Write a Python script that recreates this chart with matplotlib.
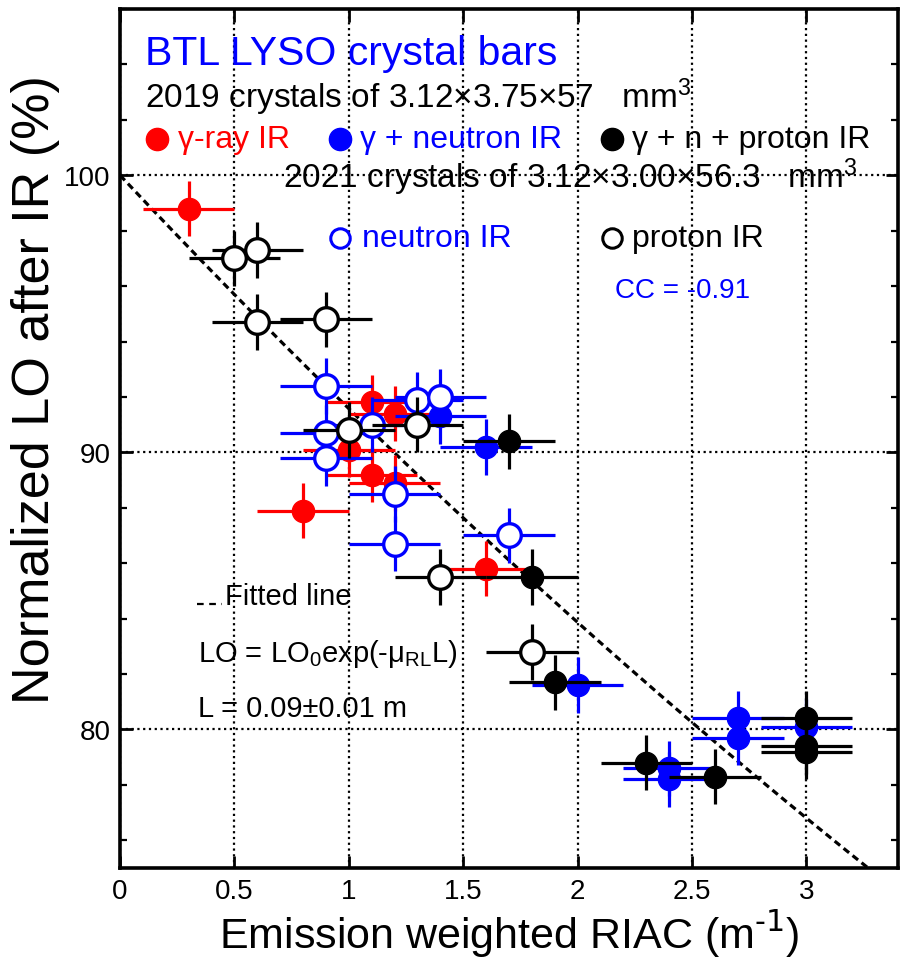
import matplotlib
matplotlib.use("Agg")
import matplotlib.pyplot as plt
import numpy as np
from matplotlib.ticker import MultipleLocator, FuncFormatter

plt.rcParams["font.family"] = ["Liberation Sans", "DejaVu Sans"]
plt.rcParams["mathtext.default"] = "regular"
plt.rcParams["axes.unicode_minus"] = False

# 2019 crystals (3.12x3.75x57 mm3)
gamma_x = [0.30, 0.80, 1.00, 1.10, 1.10, 1.20, 1.20, 1.60]
gamma_y = [98.8, 87.9, 90.1, 91.8, 89.2, 91.4, 88.9, 85.8]
gn_x = [1.40, 1.60, 2.00, 2.40, 2.40, 2.70, 2.70, 3.00]
gn_y = [91.3, 90.2, 81.6, 78.6, 78.2, 80.4, 79.7, 80.1]
gnp_x = [1.70, 1.80, 1.90, 2.30, 2.60, 3.00, 3.00, 3.00]
gnp_y = [90.4, 85.5, 81.7, 78.8, 78.3, 80.4, 79.4, 79.2]

# 2021 crystals (3.12x3.00x56.3 mm3)
neutron_x = [0.90, 0.90, 0.90, 1.10, 1.20, 1.20, 1.30, 1.40, 1.70]
neutron_y = [92.4, 90.7, 89.8, 91.0, 88.5, 86.7, 91.9, 92.0, 87.0]
proton_x = [0.50, 0.60, 0.60, 0.90, 1.00, 1.30, 1.40, 1.80]
proton_y = [97.0, 97.3, 94.7, 94.8, 90.8, 91.0, 85.5, 82.8]

riac_err = 0.2      # m^-1
lo_err = 1.0        # %
fit_L = 0.088       # m, quoted as 0.09 +- 0.01

RED, BLUE, BLACK = "#ff0000", "#0000ff", "#000000"

fig = plt.figure(figsize=(9.08, 9.62), dpi=100)
ax = fig.add_axes([0.1322, 0.0967, 0.8568, 0.8929])

xs = np.linspace(0, 3.4, 200)
ax.plot(xs, 100 * np.exp(-fit_L * xs), color="k", lw=2.3,
        ls=(0, (2.2, 1.4)), zorder=2)


def points(x, y, color, filled, z):
    kw = dict(fmt="o", xerr=riac_err, yerr=lo_err, ecolor=color,
              elinewidth=2.3, capsize=0, zorder=z)
    if filled:
        ax.errorbar(x, y, ms=16, mfc=color, mec=color, mew=1, **kw)
    else:
        ax.errorbar(x, y, ms=17, mfc="white", mec=color, mew=2.4, **kw)


points(gamma_x, gamma_y, RED, True, 3)
points(gn_x, gn_y, BLUE, True, 4)
points(gnp_x, gnp_y, BLACK, True, 5)
points(neutron_x, neutron_y, BLUE, False, 6)
points(proton_x, proton_y, BLACK, False, 7)

ax.set_xlim(0, 3.4)
ax.set_ylim(75, 106)
ax.xaxis.set_major_locator(MultipleLocator(0.5))
ax.yaxis.set_major_locator(MultipleLocator(10))
ax.yaxis.set_minor_locator(MultipleLocator(2))
ax.xaxis.set_major_formatter(FuncFormatter(lambda v, p: f"{v:g}"))
ax.grid(True, which="major", color="k", ls=(0, (1, 1.6)), lw=1.6)
ax.tick_params(which="both", direction="in", top=True, right=True)
ax.tick_params(which="major", length=9, width=2, labelsize=20, pad=7)
ax.tick_params(which="minor", length=5, width=1.6)
for lab in ax.get_xticklabels() + ax.get_yticklabels():
    lab.set_family(["Liberation Sans Narrow", "Liberation Sans"])
for sp in ax.spines.values():
    sp.set_linewidth(2.6)

ax.set_xlabel(r"Emission weighted RIAC (m$^{\text{-1}}$)", fontsize=31,
              labelpad=3)
ax.set_ylabel("Normalized LO after IR (%)", fontsize=37.5)
ax.yaxis.set_label_coords(-0.077, 0.558)

T = ax.transAxes
ax.text(0.032, 0.936, "BTL LYSO crystal bars", color=BLUE, fontsize=29.5,
        transform=T, va="baseline")
ax.text(0.032, 0.886, "2019 crystals of 3.12\u00d73.75\u00d757   mm$^3$",
        fontsize=24, transform=T, va="baseline")
ax.text(0.2095, 0.793, "2021 crystals of 3.12\u00d73.00\u00d756.3   mm$^3$",
        fontsize=24, transform=T, va="baseline")

keys = [
    (0.048, 0.8487, 0.0746, "\u03b3-ray IR", RED, True),
    (0.283, 0.8487, 0.308, "\u03b3 + neutron IR", BLUE, True),
    (0.632, 0.8487, 0.658, "\u03b3 + n + proton IR", BLACK, True),
    (0.283, 0.7334, 0.311, "neutron IR", BLUE, False),
    (0.632, 0.7334, 0.658, "proton IR", BLACK, False),
]
for mx, my, tx, label, c, filled in keys:
    if filled:
        ax.plot(mx, my, "o", transform=T, ms=16, mfc=c, mec=c, clip_on=False)
    else:
        ax.plot(mx, my, "o", transform=T, ms=14, mfc="white", mec=c,
                mew=2.2, clip_on=False)
    ax.text(tx, my - 0.0095, label, color=c, fontsize=23, transform=T,
            va="baseline")

ax.text(0.636, 0.665, "CC = -0.91", color=BLUE, fontsize=20,
        transform=T, va="baseline")

ax.plot([0.099, 0.131], [0.307, 0.307], transform=T, color="k", lw=1.6,
        ls=(0, (3, 2.5)))
ax.text(0.135, 0.3073, "Fitted line", fontsize=21, transform=T,
        va="baseline")
ax.text(0.100, 0.241, "LO = LO$_0$exp(-\u03bc$_{RL}$L)", fontsize=21,
        transform=T, va="baseline")
ax.text(0.100, 0.177, "L = 0.09\u00b10.01 m", fontsize=21, transform=T,
        va="baseline")

fig.savefig("out.png", dpi=100, facecolor="white")
